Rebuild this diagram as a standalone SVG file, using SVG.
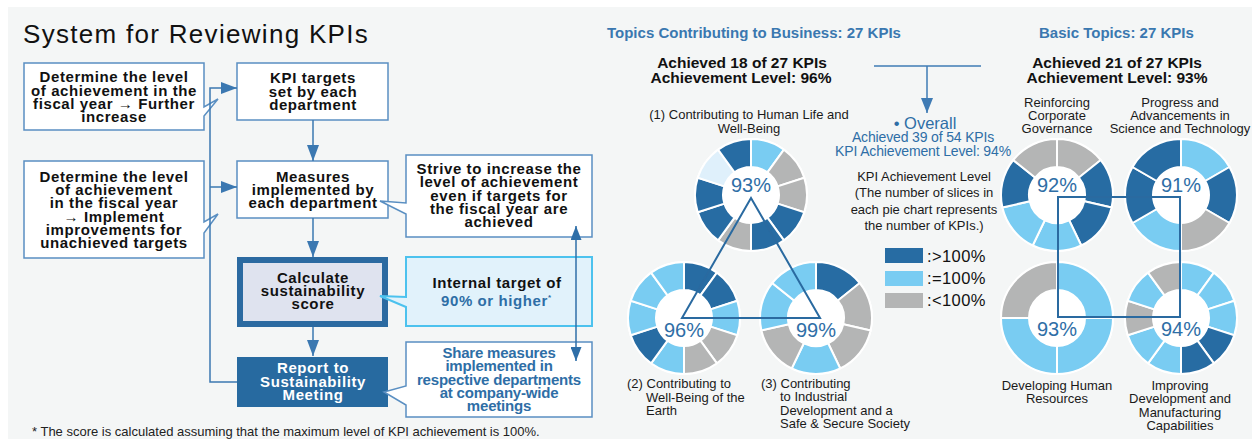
<svg xmlns="http://www.w3.org/2000/svg" width="1255" height="439" viewBox="0 0 1255 439">
<style>
text{font-family:"Liberation Sans",Arial,sans-serif;}
.title{font-size:26px;letter-spacing:1.3px;fill:#111;}
.fb{font-size:15px;font-weight:bold;letter-spacing:.6px;fill:#111;text-anchor:middle;}
.fw{fill:#fff;}
.fbl{fill:#2e6ea6;}
.cond{letter-spacing:-.2px;}
.box{fill:#fff;stroke:#5a8fc2;stroke-width:1.5;}
.hd{font-size:15px;font-weight:bold;fill:#3a78b0;}
.ach{font-size:15.5px;font-weight:bold;fill:#111;text-anchor:middle;}
.lbl{font-size:13px;fill:#1a1a1a;}
.mid{text-anchor:middle;}
.pct{font-size:20px;fill:#2e6ea6;text-anchor:middle;}
.ovs{font-size:14px;letter-spacing:-.15px;fill:#2e6ea6;text-anchor:middle;}
.leg{font-size:16.5px;letter-spacing:.4px;fill:#111;}
.fn{font-size:13px;fill:#222;}
.db{fill:#276ca3;}
.lb{fill:#79ccf2;}
.gr{fill:#b4b5b5;}
.pl{fill:#dff0fb;}
.con{fill:none;stroke:#3b78b1;stroke-width:1.5;}
.shape{fill:none;stroke:#2a6aa0;stroke-width:2;}
</style>
<defs>
<path id="w10" d="M0,-56 A56,56 0 0 1 32.916,-45.305 L16.458,-22.652 A28,28 0 0 0 0,-28 Z" stroke="#fff" stroke-width="2"/>
<path id="w7" d="M0,-56 A56,56 0 0 1 43.783,-34.915 L21.891,-17.458 A28,28 0 0 0 0,-28 Z" stroke="#fff" stroke-width="2"/>
<path id="w6" d="M0,-56 A56,56 0 0 1 48.497,-28 L24.249,-14 A28,28 0 0 0 0,-28 Z" stroke="#fff" stroke-width="2"/>
<path id="w4" d="M0,-56 A56,56 0 0 1 56,0 L28,0 A28,28 0 0 0 0,-28 Z" stroke="#fff" stroke-width="2"/>
<marker id="ah" markerUnits="userSpaceOnUse" markerWidth="16" markerHeight="12" refX="16" refY="6" orient="auto-start-reverse"><path d="M0,0 L16,6 L0,12 Z" fill="#3b78b1"/></marker>
<marker id="ah2" markerUnits="userSpaceOnUse" markerWidth="14" markerHeight="11" refX="14" refY="5.5" orient="auto-start-reverse"><path d="M0,0 L14,5.5 L0,11 Z" fill="#2f6fa8"/></marker>
<marker id="ah3" markerUnits="userSpaceOnUse" markerWidth="15" markerHeight="12" refX="15" refY="6" orient="auto"><path d="M0,0 L15,6 L0,12 Z" fill="#3f7bb4"/></marker>
</defs>

<rect x="8" y="7" width="1244" height="432" fill="#f4f6f6"/>

<text class="title" x="23" y="43">System for Reviewing KPIs</text>

<!-- Flowchart nodes -->
<g id="box-further-increase">
<path class="box" d="M24,63 H204 V107 L218,99 L204,116 V130 H24 Z"/>
<text class="fb" x="114" y="82">Determine the level<tspan x="114" dy="13.5">of achievement in the</tspan><tspan x="114" dy="13.5">fiscal year → Further</tspan><tspan x="114" dy="13">increase</tspan></text>
</g>
<g id="box-implement-improvements">
<path class="box" d="M24,161 H204 V222 L218,214 L204,233 V258 H24 Z"/>
<text class="fb" x="114" y="182">Determine the level<tspan x="114" dy="13.2">of achievement</tspan><tspan x="114" dy="13.2">in the fiscal year</tspan><tspan x="114" dy="13.2">→ Implement</tspan><tspan x="114" dy="13.2">improvements for</tspan><tspan x="114" dy="13.2">unachieved targets</tspan></text>
</g>
<g id="box-kpi-targets">
<rect class="box" x="237" y="63" width="151" height="57"/>
<text class="fb" x="313" y="83">KPI targets<tspan x="313" dy="13.5">set by each</tspan><tspan x="313" dy="13.5">department</tspan></text>
</g>
<g id="box-measures">
<rect class="box" x="237" y="161" width="151" height="57"/>
<text class="fb" x="313" y="182">Measures<tspan x="313" dy="13">implemented by</tspan><tspan x="313" dy="13">each department</tspan></text>
</g>
<g id="box-calculate">
<rect x="240" y="260" width="145" height="64" fill="#dfe3ef" stroke="#2b6aa1" stroke-width="6"/>
<text class="fb" x="313" y="283">Calculate<tspan x="313" dy="13">sustainability</tspan><tspan x="313" dy="13">score</tspan></text>
</g>
<g id="box-report">
<rect x="237" y="357" width="151" height="50" fill="#276aa0"/>
<text class="fb fw" x="313" y="373">Report to<tspan x="313" dy="13.5">Sustainability</tspan><tspan x="313" dy="13.5">Meeting</tspan></text>
</g>
<g id="box-strive">
<path class="box" d="M406,155 H592 V237 H406 V214 L380,201 L406,203 Z"/>
<text class="fb" x="499" y="174">Strive to increase the<tspan x="499" dy="13.25">level of achievement</tspan><tspan x="499" dy="13.25">even if targets for</tspan><tspan x="499" dy="13.25">the fiscal year are</tspan><tspan x="499" dy="13.25">achieved</tspan></text>
</g>
<g id="box-internal-target">
<path d="M406,257 H592 V326 H406 V307 L380,296 L406,297 Z" fill="#e1f2fb" stroke="#4cc2ee" stroke-width="2"/>
<text class="fb" x="497" y="288">Internal target of</text>
<text class="fb fbl" x="441" y="306" style="text-anchor:start">90% or higher<tspan font-size="8" dy="-6">*</tspan></text>
</g>
<g id="box-share">
<path class="box" d="M406,342 H592 V417 H406 V405 L384,392 L406,386 Z"/>
<text class="fb fbl cond" x="499" y="358">Share measures<tspan x="499" dy="13.25">implemented in</tspan><tspan x="499" dy="13.25">respective departments</tspan><tspan x="499" dy="13.25">at company-wide</tspan><tspan x="499" dy="13.25">meetings</tspan></text>
</g>

<text class="fn" x="32" y="436">* The score is calculated assuming that the maximum level of KPI achievement is 100%.</text>

<!-- Right headings -->
<g id="head-business">
<text class="hd" x="607" y="38">Topics Contributing to Business: 27 KPIs</text>
<text class="ach" x="742" y="68">Achieved 18 of 27 KPIs<tspan x="741" dy="15">Achievement Level: 96%</tspan></text>
</g>
<g id="head-basic">
<text class="hd" x="1039" y="38">Basic Topics: 27 KPIs</text>
<text class="ach" x="1117" y="68">Achieved 21 of 27 KPIs<tspan x="1117" dy="15">Achievement Level: 93%</tspan></text>
</g>
<g id="overall">
<text x="925" y="129" font-size="16.5" fill="#2e6ea6" text-anchor="middle">• Overall</text>
<text class="ovs" x="923" y="142">Achieved 39 of 54 KPIs<tspan x="923" dy="14">KPI Achievement Level: 94%</tspan></text>
<text class="lbl mid" x="924" y="181">KPI Achievement Level<tspan x="924" dy="16.3">(The number of slices in</tspan><tspan x="924" dy="16.3">each pie chart represents</tspan><tspan x="924" dy="16.3">the number of KPIs.)</tspan></text>
</g>
<g id="legend">
<rect class="db" x="885" y="248" width="38" height="15"/>
<rect class="lb" x="885" y="271" width="38" height="15"/>
<rect class="gr" x="885" y="293" width="38" height="15"/>
<text class="leg" x="927" y="262">:&gt;100%</text>
<text class="leg" x="927" y="284">:=100%</text>
<text class="leg" x="927" y="306">:&lt;100%</text>
</g>

<!-- Pies -->
<g id="pie-human-life">
<g transform="translate(751,195)">
<circle r="57" fill="#fff"/>
<use href="#w10" class="lb"/>
<use href="#w10" class="gr" transform="rotate(36)"/>
<use href="#w10" class="gr" transform="rotate(72)"/>
<use href="#w10" class="db" transform="rotate(108)"/>
<use href="#w10" class="db" transform="rotate(144)"/>
<use href="#w10" class="gr" transform="rotate(180)"/>
<use href="#w10" class="db" transform="rotate(216)"/>
<use href="#w10" class="db" transform="rotate(252)"/>
<use href="#w10" class="pl" transform="rotate(288)"/>
<use href="#w10" class="db" transform="rotate(324)"/>
<text class="pct" x="0" y="-3">93%</text>
</g>
<text class="lbl mid" x="749" y="119">(1) Contributing to Human Life and<tspan x="749" dy="14">Well-Being</tspan></text>
</g>
<g id="pie-earth">
<g transform="translate(684,318)">
<circle r="57" fill="#fff"/>
<use href="#w10" class="db"/>
<use href="#w10" class="db" transform="rotate(36)"/>
<use href="#w10" class="lb" transform="rotate(72)"/>
<use href="#w10" class="gr" transform="rotate(108)"/>
<use href="#w10" class="gr" transform="rotate(144)"/>
<use href="#w10" class="lb" transform="rotate(180)"/>
<use href="#w10" class="db" transform="rotate(216)"/>
<use href="#w10" class="lb" transform="rotate(252)"/>
<use href="#w10" class="lb" transform="rotate(288)"/>
<use href="#w10" class="lb" transform="rotate(324)"/>
<text class="pct" x="0" y="19">96%</text>
</g>
<text class="lbl" x="627" y="388">(2) Contributing to<tspan x="646" dy="13.5">Well-Being of the</tspan><tspan x="646" dy="13.5">Earth</tspan></text>
</g>
<g id="pie-industrial">
<g transform="translate(816,318)">
<circle r="57" fill="#fff"/>
<use href="#w7" class="db"/>
<use href="#w7" class="gr" transform="rotate(51.4286)"/>
<use href="#w7" class="gr" transform="rotate(102.857)"/>
<use href="#w7" class="lb" transform="rotate(154.286)"/>
<use href="#w7" class="gr" transform="rotate(205.714)"/>
<use href="#w7" class="lb" transform="rotate(257.143)"/>
<use href="#w7" class="lb" transform="rotate(308.571)"/>
<text class="pct" x="0" y="19">99%</text>
</g>
<text class="lbl" x="761" y="388">(3) Contributing<tspan x="780" dy="13.4">to Industrial</tspan><tspan x="780" dy="13.4">Development and a</tspan><tspan x="780" dy="13.4">Safe &amp; Secure Society</tspan></text>
</g>
<g id="pie-governance">
<g transform="translate(1057,195)">
<circle r="57" fill="#fff"/>
<use href="#w7" class="gr"/>
<use href="#w7" class="db" transform="rotate(51.4286)"/>
<use href="#w7" class="db" transform="rotate(102.857)"/>
<use href="#w7" class="lb" transform="rotate(154.286)"/>
<use href="#w7" class="lb" transform="rotate(205.714)"/>
<use href="#w7" class="db" transform="rotate(257.143)"/>
<use href="#w7" class="gr" transform="rotate(308.571)"/>
<text class="pct" x="0" y="-3">92%</text>
</g>
<text class="lbl mid" x="1057" y="107">Reinforcing<tspan x="1057" dy="13">Corporate</tspan><tspan x="1057" dy="13">Governance</tspan></text>
</g>
<g id="pie-science">
<g transform="translate(1181,195)">
<circle r="57" fill="#fff"/>
<use href="#w6" class="lb"/>
<use href="#w6" class="db" transform="rotate(60)"/>
<use href="#w6" class="gr" transform="rotate(120)"/>
<use href="#w6" class="lb" transform="rotate(180)"/>
<use href="#w6" class="db" transform="rotate(240)"/>
<use href="#w6" class="db" transform="rotate(300)"/>
<text class="pct" x="0" y="-3">91%</text>
</g>
<text class="lbl mid" x="1180" y="107">Progress and<tspan x="1180" dy="13">Advancements in</tspan><tspan x="1180" dy="13">Science and Technology</tspan></text>
</g>
<g id="pie-human-resources">
<g transform="translate(1057,318)">
<circle r="57" fill="#fff"/>
<use href="#w4" class="lb"/>
<use href="#w4" class="lb" transform="rotate(90)"/>
<use href="#w4" class="lb" transform="rotate(180)"/>
<use href="#w4" class="gr" transform="rotate(270)"/>
<text class="pct" x="0" y="18">93%</text>
</g>
<text class="lbl mid" x="1057" y="390">Developing Human<tspan x="1057" dy="13">Resources</tspan></text>
</g>
<g id="pie-manufacturing">
<g transform="translate(1181,318)">
<circle r="57" fill="#fff"/>
<use href="#w10" class="lb"/>
<use href="#w10" class="lb" transform="rotate(36)"/>
<use href="#w10" class="lb" transform="rotate(72)"/>
<use href="#w10" class="db" transform="rotate(108)"/>
<use href="#w10" class="db" transform="rotate(144)"/>
<use href="#w10" class="lb" transform="rotate(180)"/>
<use href="#w10" class="lb" transform="rotate(216)"/>
<use href="#w10" class="gr" transform="rotate(252)"/>
<use href="#w10" class="lb" transform="rotate(288)"/>
<use href="#w10" class="gr" transform="rotate(324)"/>
<text class="pct" x="0" y="18">94%</text>
</g>
<text class="lbl mid" x="1180" y="390">Improving<tspan x="1180" dy="13.3">Development and</tspan><tspan x="1180" dy="13.3">Manufacturing</tspan><tspan x="1180" dy="13.3">Capabilities</tspan></text>
</g>

<!-- Connectors -->
<g id="connectors">
<path class="con" d="M237,382 H210 V88 H237" marker-end="url(#ah)"/>
<path class="con" d="M210,187 H237" marker-end="url(#ah)"/>
<path class="con" d="M313,120 V161" marker-end="url(#ah)"/>
<path class="con" d="M313,218 V257" marker-end="url(#ah)"/>
<path class="con" d="M313,327 V356" marker-end="url(#ah)"/>
<path d="M576,226 V361" fill="none" stroke="#2f6fa8" stroke-width="1.5" marker-start="url(#ah2)" marker-end="url(#ah2)"/>
<path d="M874,66 H981" fill="none" stroke="#3f7bb4" stroke-width="1.5"/>
<path d="M927,66 V113" fill="none" stroke="#3f7bb4" stroke-width="1.5" marker-end="url(#ah3)"/>
<path class="shape" d="M751,198 L820,318 L682,318 Z"/>
<rect class="shape" x="1058" y="197" width="122" height="120"/>
</g>
</svg>
